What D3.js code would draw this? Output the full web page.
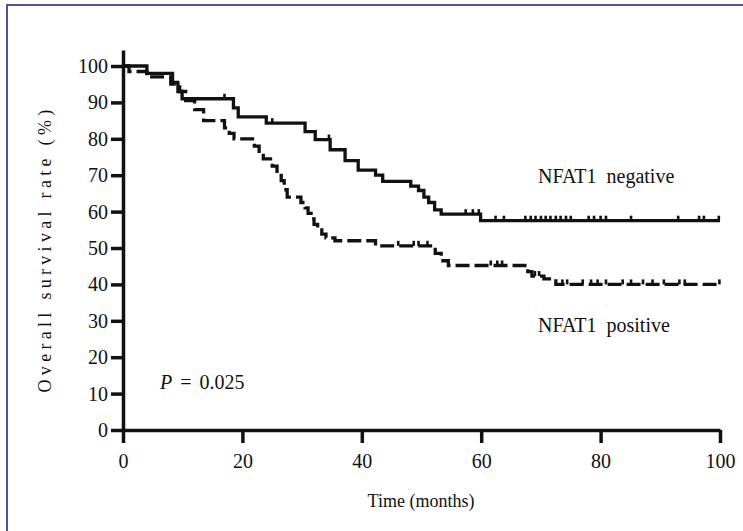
<!DOCTYPE html>
<html><head><meta charset="utf-8">
<script src="https://cdn.jsdelivr.net/npm/d3@7"></script>
<style>body{margin:0;background:#fff}svg{display:block}</style>
</head><body>
<svg id="c" width="743" height="531"></svg>
<script>
// Kaplan-Meier step data (time in months, survival %)
const negT = [0, 4, 8.3, 9.2, 9.9, 18.5, 19.3, 24, 30.5, 32.2, 34.7, 37.2, 39.4, 42.3, 43.5, 48.2, 49.5, 50.4, 51.2, 52.2, 53.3, 59.9, 100];
const negS = [100, 98, 95.5, 93, 91, 88.5, 86, 84.3, 82, 79.8, 77, 74, 71.4, 70, 68.3, 67, 65.8, 64, 62.5, 60.5, 59.3, 57.5, 57.5];
const negCensor = [17, 25, 34.5, 57.4, 58.6, 59.6, 62.4, 63.8, 67.4, 68.3, 69.1, 70.0, 70.8, 71.6, 72.5, 73.3, 74.2, 75.0, 78.0, 78.9, 80.0, 80.9, 85.1, 93.0, 96.5, 97.3, 99.8];

const posT = [0, 1, 4, 8, 9.5, 10.5, 12, 13.5, 17, 17.8, 18.6, 22, 22.8, 23.5, 25, 25.8, 26.5, 27, 27.5, 29.8, 30.5, 31, 31.5, 32, 32.6, 33.3, 34, 35.5, 42.3, 52.3, 53.3, 54.5, 67.8, 68.5, 70.5, 72.5, 100];
const posS = [100, 98.5, 97, 95, 93, 90.5, 88, 85, 83, 81.5, 80, 78, 76, 74.5, 72.5, 70.5, 68.5, 66, 64, 62.5, 61, 59.5, 58, 56.5, 55, 53.8, 52.8, 52, 50.6, 48.5, 46.5, 45.2, 43.5, 42.3, 41.5, 40, 40];
const posCensor = [46.1, 48.7, 49.5, 51, 61.6, 62.7, 63.5, 69, 69.7, 73.6, 74.4, 77, 78.4, 79.5, 80.9, 83.7, 85.1, 87.1, 88.7, 90.6, 93.2, 94.1, 99.9];

const xTicks = [0, 20, 40, 60, 80, 100];
const yTicks = [0, 10, 20, 30, 40, 50, 60, 70, 80, 90, 100];

const svg = d3.select("#c");
const ink = "#111";
const font = "'Liberation Serif', 'Times New Roman', serif";

// frame
svg.append("path").attr("d", "M7,531 L7,5 L743,5")
  .attr("fill", "none").attr("stroke", "#5151a0").attr("stroke-width", 2);

const x = d3.scaleLinear().domain([0, 100]).range([123, 720]);
const y = d3.scaleLinear().domain([0, 104.4]).range([430, 50]);

function stepAt(T, S, t) {
  let v = S[0];
  for (let i = 0; i < T.length; i++) if (T[i] <= t) v = S[i];
  return v;
}

const line = d3.line().x(d => x(d[0])).y(d => y(d[1])).curve(d3.curveStepAfter);

svg.append("path").datum(negT.map((t, i) => [t, negS[i]]))
  .attr("d", line).attr("fill", "none").attr("stroke", ink).attr("stroke-width", 3.3);
svg.append("path").datum(posT.map((t, i) => [t, posS[i]]))
  .attr("d", line).attr("fill", "none").attr("stroke", ink).attr("stroke-width", 3.3)
  .attr("stroke-dasharray", "14,5");

function censor(ts, T, S) {
  svg.append("g").selectAll("line").data(ts).join("line")
    .attr("x1", d => x(d)).attr("x2", d => x(d))
    .attr("y1", d => y(stepAt(T, S, d)))
    .attr("y2", d => y(stepAt(T, S, d)) - 5)
    .attr("stroke", ink).attr("stroke-width", 2.6);
}
censor(negCensor, negT, negS);
censor(posCensor, posT, posS);

// axes
const gx = svg.append("g").attr("transform", "translate(0,430)")
  .call(d3.axisBottom(x).tickValues(xTicks).tickSize(13).tickSizeOuter(0).tickPadding(11));
const gy = svg.append("g").attr("transform", "translate(123,0)")
  .call(d3.axisLeft(y).tickValues(yTicks).tickSize(12).tickSizeOuter(0).tickPadding(3));
[gx, gy].forEach(g => {
  g.select(".domain").attr("stroke", ink).attr("stroke-width", 3.5);
  g.selectAll(".tick line").attr("stroke", ink).attr("stroke-width", 3.5);
  g.selectAll(".tick text").attr("fill", ink).attr("font-family", font).attr("font-size", 20);
});

// titles
svg.append("text").attr("x", 421).attr("y", 507).attr("text-anchor", "middle")
  .attr("font-family", font).attr("font-size", 18).attr("fill", ink)
  .text("Time (months)");
svg.append("text").attr("transform", "translate(51,249) rotate(-90)").attr("text-anchor", "middle")
  .attr("font-family", font).attr("font-size", 18).attr("letter-spacing", 4.3).attr("fill", ink)
  .text("Overall survival rate (%)");

svg.append("text").attr("x", 538).attr("y", 183)
  .attr("font-family", font).attr("font-size", 20).attr("fill", ink)
  .style("white-space", "pre")
  .text("NFAT1  negative");
svg.append("text").attr("x", 538).attr("y", 332)
  .attr("font-family", font).attr("font-size", 20).attr("fill", ink)
  .style("white-space", "pre")
  .text("NFAT1  positive");

const p = svg.append("text").attr("x", 160).attr("y", 389)
  .attr("font-family", font).attr("font-size", 20).attr("fill", ink).style("white-space", "pre");
p.append("tspan").attr("font-style", "italic").text("P");
p.append("tspan").attr("dx", 8).text("=");
p.append("tspan").attr("dx", 8).text("0.025");
</script>
</body></html>
